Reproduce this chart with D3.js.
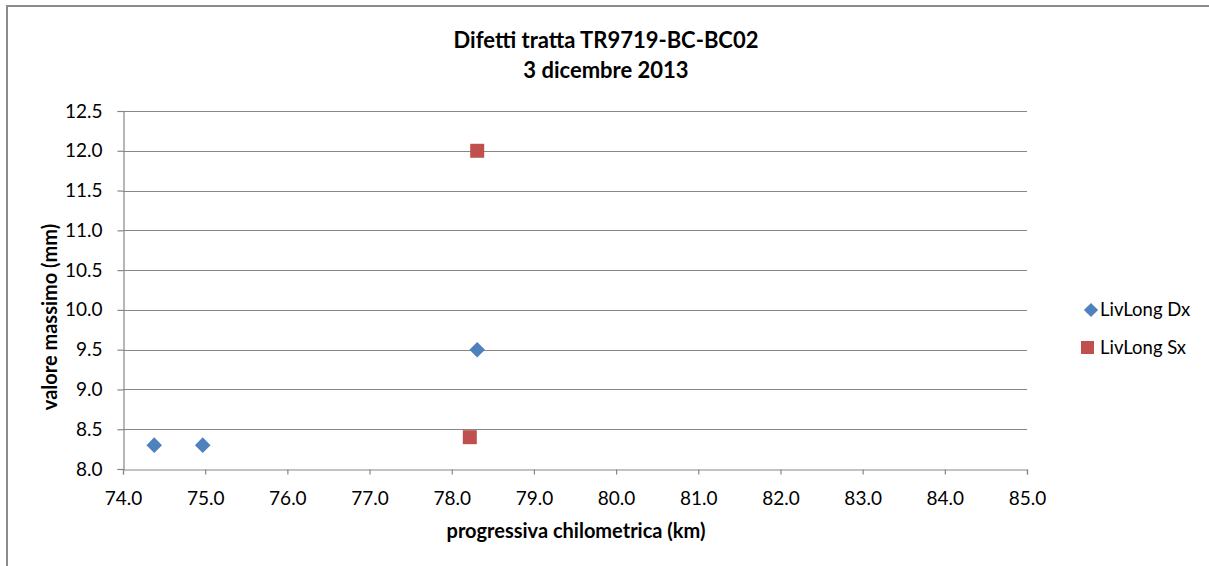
<!DOCTYPE html>
<html>
<head>
<meta charset="utf-8">
<script src="https://cdn.jsdelivr.net/npm/d3@7"></script>
<style>
  html, body { margin: 0; padding: 0; background: #fff; }
  svg { display: block; }
  text { font-family: Lato, "Open Sans", sans-serif; fill: #000; }
</style>
</head>
<body>
<svg id="chart" width="1209" height="566"></svg>
<script>
// Series: progressive km and maximum value (mm)
const dxKm = [74.38, 74.97, 78.31];
const dxVal = [8.3, 8.3, 9.5];
const sxKm = [78.31, 78.22];
const sxVal = [12.0, 8.4];

const xTicks = [74, 75, 76, 77, 78, 79, 80, 81, 82, 83, 84, 85];
const yTicks = [8.0, 8.5, 9.0, 9.5, 10.0, 10.5, 11.0, 11.5, 12.0, 12.5];

const titleLines = ["Difetti tratta TR9719-BC-BC02", "3 dicembre 2013"];
const xTitle = "progressiva chilometrica (km)";
const yTitle = "valore massimo (mm)";
const seriesNames = ["LivLong Dx", "LivLong Sx"];

const colDx = "#4F81BD";
const colSx = "#C0504D";
const gridCol = "#878787";

const svg = d3.select("#chart");

// chart frame (extends past the right and bottom edges)
svg.append("rect")
  .attr("x", 7).attr("y", 6).attr("width", 1300).attr("height", 700)
  .attr("fill", "#fff").attr("stroke", "#8c8c8c").attr("stroke-width", 2);

const plot = { left: 123, right: 1027, top: 111, bottom: 469 };

const x = d3.scaleLinear().domain([74, 85]).range([plot.left, plot.right]);
const y = d3.scaleLinear().domain([8, 12.5]).range([plot.bottom, plot.top]);

// horizontal gridlines
svg.append("g")
  .selectAll("line")
  .data(yTicks.slice(1))
  .join("line")
  .attr("x1", plot.left).attr("x2", plot.right)
  .attr("y1", d => Math.round(y(d)) + 0.5).attr("y2", d => Math.round(y(d)) + 0.5)
  .attr("stroke", gridCol).attr("stroke-width", 1.2);

// y axis
const yAxis = svg.append("g")
  .attr("transform", `translate(${plot.left + 0.5},0)`)
  .call(d3.axisLeft(y).tickValues(yTicks).tickFormat(d3.format(".1f")).tickSize(6).tickPadding(15));
yAxis.select(".domain").attr("stroke", gridCol).attr("stroke-width", 1.2);
yAxis.selectAll(".tick line").attr("stroke", gridCol).attr("stroke-width", 1.2);
yAxis.selectAll(".tick text").attr("font-size", 19).attr("font-family", "Lato").attr("fill", "#000");

// x axis
const xAxis = svg.append("g")
  .attr("transform", `translate(0,${plot.bottom + 0.5})`)
  .call(d3.axisBottom(x).tickValues(xTicks).tickFormat(d3.format(".1f")).tickSize(5).tickPadding(17));
xAxis.select(".domain").attr("stroke", gridCol).attr("stroke-width", 1.2);
xAxis.selectAll(".tick line").attr("stroke", gridCol).attr("stroke-width", 1.2);
xAxis.selectAll(".tick text").attr("font-size", 19).attr("font-family", "Lato").attr("fill", "#000");

// markers
const dxData = dxKm.map((k, i) => ({ km: k, v: dxVal[i] }));
const sxData = sxKm.map((k, i) => ({ km: k, v: sxVal[i] }));

svg.append("g").selectAll("rect")
  .data(dxData)
  .join("rect")
  .attr("x", -5.5).attr("y", -5.5).attr("width", 11).attr("height", 11)
  .attr("transform", d => `translate(${x(d.km)},${y(d.v)}) rotate(45)`)
  .attr("fill", colDx);

svg.append("g").selectAll("rect")
  .data(sxData)
  .join("rect")
  .attr("x", d => x(d.km) - 7).attr("y", d => y(d.v) - 7)
  .attr("width", 14).attr("height", 14)
  .attr("fill", colSx);

// title
svg.append("text")
  .attr("x", 606).attr("y", 48)
  .attr("text-anchor", "middle")
  .attr("font-weight", "bold").attr("font-size", 22)
  .text(titleLines[0]);
svg.append("text")
  .attr("x", 606).attr("y", 78)
  .attr("text-anchor", "middle")
  .attr("font-weight", "bold").attr("font-size", 22)
  .text(titleLines[1]);

// axis titles
svg.append("text")
  .attr("x", 576).attr("y", 538)
  .attr("text-anchor", "middle")
  .attr("font-weight", "bold").attr("font-size", 20)
  .text(xTitle);
svg.append("text")
  .attr("transform", "translate(57,317) rotate(-90)")
  .attr("text-anchor", "middle")
  .attr("font-weight", "bold").attr("font-size", 20)
  .text(yTitle);

// legend
const legend = svg.append("g");
legend.append("rect")
  .attr("x", -5).attr("y", -5).attr("width", 10).attr("height", 10)
  .attr("transform", "translate(1091,310) rotate(45)")
  .attr("fill", colDx);
legend.append("rect")
  .attr("x", 1081).attr("y", 341).attr("width", 13).attr("height", 13)
  .attr("fill", colSx);
legend.append("text").attr("x", 1100).attr("y", 316).attr("font-size", 18.5).text(seriesNames[0]);
legend.append("text").attr("x", 1100).attr("y", 354).attr("font-size", 18.5).text(seriesNames[1]);
</script>
</body>
</html>
